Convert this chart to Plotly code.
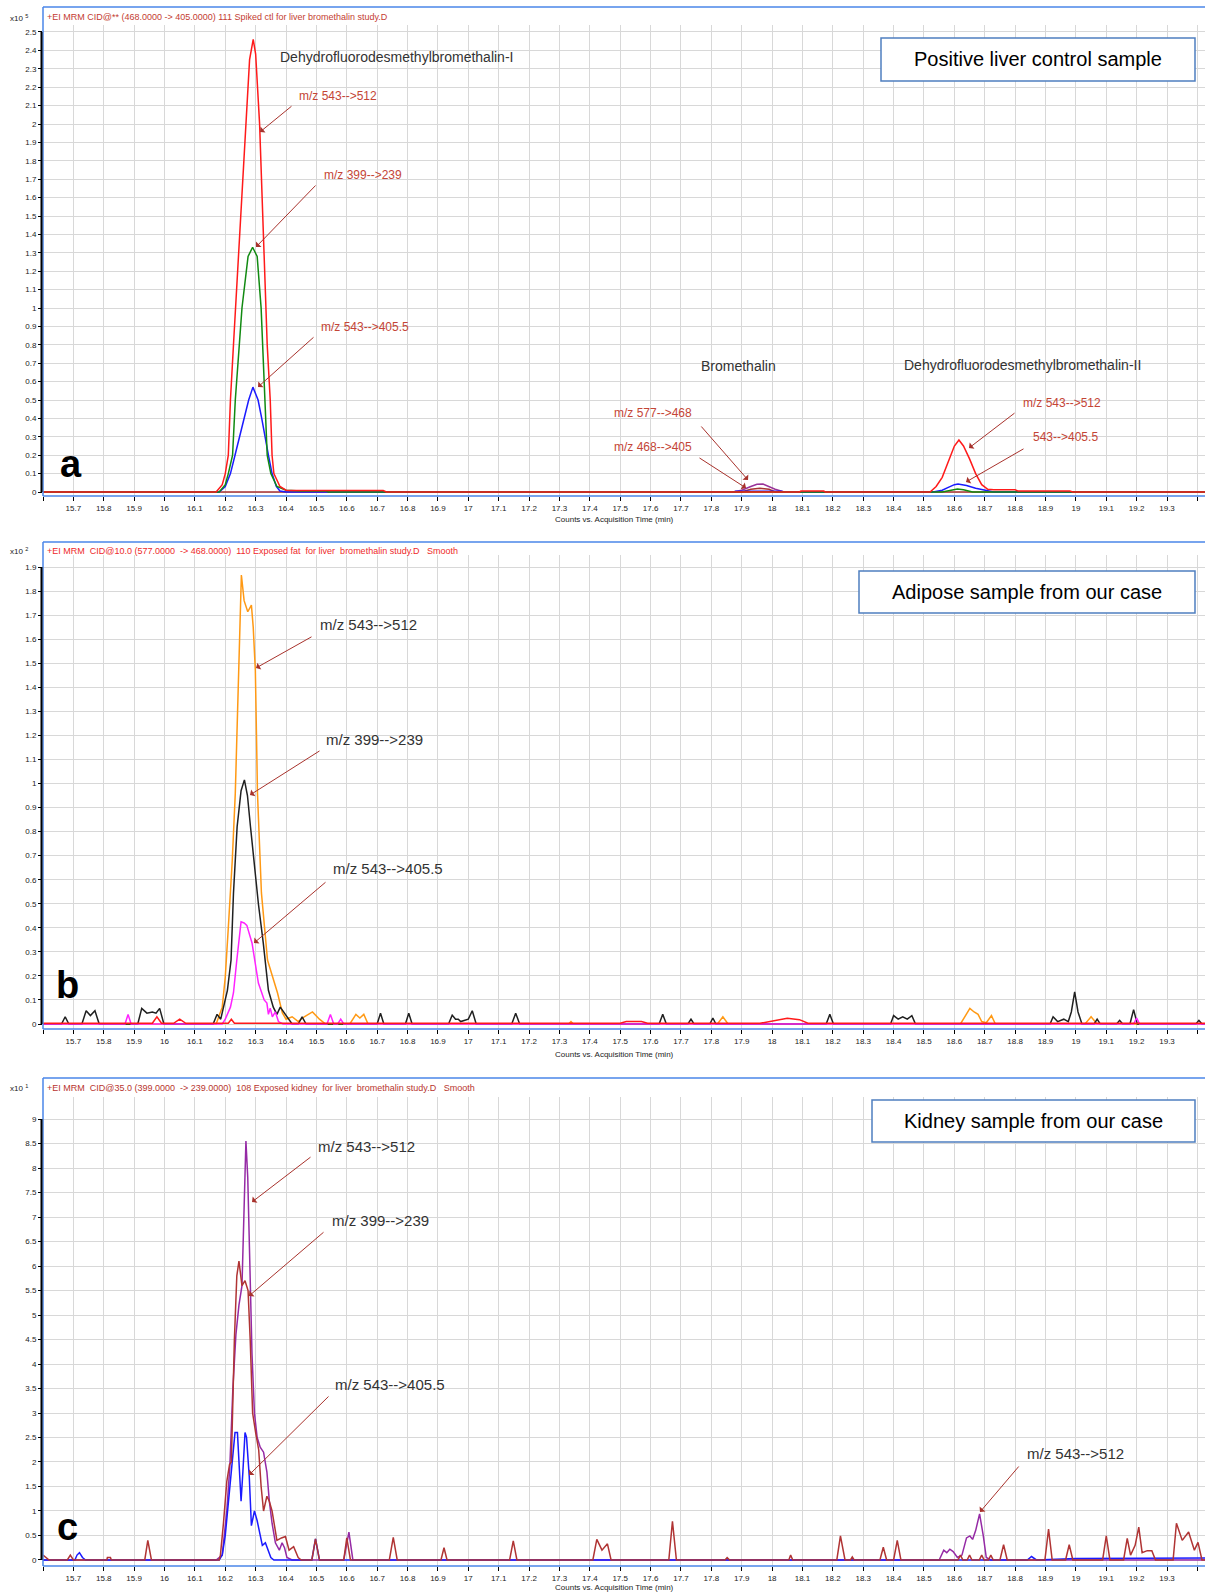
import plotly.graph_objects as go

W, H = 1205, 1595
FONT = "Liberation Sans, Arial, sans-serif"

# ---------------- tick definitions ----------------
X_TICKS = [15.6, 15.7, 15.8, 15.9, 16.0, 16.1, 16.2, 16.3, 16.4, 16.5, 16.6, 16.7, 16.8, 16.9,
           17.0, 17.1, 17.2, 17.3, 17.4, 17.5, 17.6, 17.7, 17.8, 17.9, 18.0, 18.1, 18.2, 18.3,
           18.4, 18.5, 18.6, 18.7, 18.8, 18.9, 19.0, 19.1, 19.2, 19.3, 19.4]
X_TICK_LABELS = ["", "15.7", "15.8", "15.9", "16", "16.1", "16.2", "16.3", "16.4", "16.5", "16.6",
                 "16.7", "16.8", "16.9", "17", "17.1", "17.2", "17.3", "17.4", "17.5", "17.6",
                 "17.7", "17.8", "17.9", "18", "18.1", "18.2", "18.3", "18.4", "18.5", "18.6",
                 "18.7", "18.8", "18.9", "19", "19.1", "19.2", "19.3", ""]

A_Y_TICKS = [0, 0.1, 0.2, 0.3, 0.4, 0.5, 0.6, 0.7, 0.8, 0.9, 1.0, 1.1, 1.2, 1.3, 1.4, 1.5, 1.6,
             1.7, 1.8, 1.9, 2.0, 2.1, 2.2, 2.3, 2.4, 2.5]
A_Y_LABELS = ["0", "0.1", "0.2", "0.3", "0.4", "0.5", "0.6", "0.7", "0.8", "0.9", "1", "1.1",
              "1.2", "1.3", "1.4", "1.5", "1.6", "1.7", "1.8", "1.9", "2", "2.1", "2.2", "2.3",
              "2.4", "2.5"]
B_Y_TICKS = [0, 0.1, 0.2, 0.3, 0.4, 0.5, 0.6, 0.7, 0.8, 0.9, 1.0, 1.1, 1.2, 1.3, 1.4, 1.5, 1.6,
             1.7, 1.8, 1.9]
B_Y_LABELS = ["0", "0.1", "0.2", "0.3", "0.4", "0.5", "0.6", "0.7", "0.8", "0.9", "1", "1.1",
              "1.2", "1.3", "1.4", "1.5", "1.6", "1.7", "1.8", "1.9"]
C_Y_TICKS = [0, 0.5, 1, 1.5, 2, 2.5, 3, 3.5, 4, 4.5, 5, 5.5, 6, 6.5, 7, 7.5, 8, 8.5, 9]
C_Y_LABELS = ["0", "0.5", "1", "1.5", "2", "2.5", "3", "3.5", "4", "4.5", "5", "5.5", "6", "6.5",
              "7", "7.5", "8", "8.5", "9"]

# ---------------- panel a (x10^5 counts) ----------------
A_468_405 = [(15.6, 0), (17.90, 0), (17.93, 0.015), (17.96, 0.02), (17.99, 0.015), (18.01, 0),
             (19.425, 0)]
A_577_468 = [(17.87, 0), (17.90, 0.01), (17.93, 0.03), (17.95, 0.042), (17.97, 0.043),
             (17.99, 0.03), (18.01, 0.015), (18.04, 0)]
A_543_405 = [(15.6, 0), (16.18, 0), (16.20, 0.03), (16.217, 0.1), (16.232, 0.2), (16.247, 0.3),
             (16.262, 0.4), (16.277, 0.5), (16.291, 0.57), (16.308, 0.5), (16.32, 0.4),
             (16.33, 0.3), (16.342, 0.2), (16.354, 0.1), (16.368, 0.03), (16.38, 0.005),
             (16.40, 0), (17.875, 0), (17.88, 0.004), (18.03, 0.004), (18.04, 0), (18.53, 0),
             (18.56, 0.01), (18.58, 0.025), (18.60, 0.04), (18.612, 0.044), (18.64, 0.035),
             (18.67, 0.02), (18.70, 0.008), (18.73, 0), (19.425, 0)]
A_399_239 = [(15.6, 0), (16.18, 0), (16.20, 0.04), (16.21, 0.1), (16.224, 0.2), (16.233, 0.5),
             (16.255, 1.0), (16.275, 1.28), (16.29, 1.33), (16.305, 1.28), (16.318, 1.0),
             (16.332, 0.5), (16.338, 0.2), (16.35, 0.1), (16.37, 0.03), (16.40, 0.01),
             (16.45, 0.006), (16.53, 0.006), (16.54, 0), (18.56, 0), (18.59, 0.012),
             (18.61, 0.016), (18.63, 0.012), (18.66, 0), (19.425, 0)]
A_543_512 = [(15.6, 0), (16.17, 0), (16.19, 0.04), (16.20, 0.1), (16.21, 0.2), (16.217, 0.5),
             (16.227, 0.8), (16.248, 1.4), (16.269, 2.0), (16.28, 2.35), (16.292, 2.46),
             (16.30, 2.38), (16.313, 2.0), (16.325, 1.4), (16.338, 0.8), (16.348, 0.5),
             (16.354, 0.2), (16.36, 0.1), (16.38, 0.03), (16.40, 0.01), (16.42, 0.008),
             (16.72, 0.008), (16.73, 0), (18.09, 0), (18.095, 0.005), (18.17, 0.005),
             (18.175, 0), (18.52, 0), (18.54, 0.03), (18.56, 0.08), (18.58, 0.16), (18.60, 0.25),
             (18.615, 0.283), (18.63, 0.25), (18.65, 0.18), (18.67, 0.10), (18.69, 0.04),
             (18.71, 0.015), (18.73, 0.012), (18.80, 0.012), (18.81, 0.005), (18.98, 0.005),
             (18.99, 0), (19.425, 0)]

# ---------------- panel b (x10^2 counts) ----------------
B_543_512 = [(15.6, 0), (16.17, 0), (16.19, 0.07), (16.20, 0.195), (16.21, 0.40), (16.223, 0.68),
             (16.233, 0.96), (16.243, 1.376), (16.253, 1.867), (16.262, 1.76), (16.274, 1.714),
             (16.286, 1.742), (16.292, 1.65), (16.299, 1.47), (16.306, 0.96), (16.319, 0.545),
             (16.339, 0.266), (16.372, 0.129), (16.388, 0.046), (16.40, 0.02), (16.42, 0.03),
             (16.44, 0.01), (16.46, 0.03), (16.487, 0.05), (16.51, 0.02), (16.53, 0),
             (16.61, 0), (16.63, 0.04), (16.643, 0.025), (16.656, 0.04), (16.67, 0),
             (17.33, 0), (17.338, 0.01), (17.346, 0), (17.82, 0), (17.838, 0.03), (17.855, 0),
             (18.62, 0), (18.651, 0.065), (18.665, 0.05), (18.678, 0.04), (18.69, 0.01),
             (18.705, 0.005), (18.722, 0.035), (18.735, 0), (19.03, 0), (19.05, 0.03),
             (19.07, 0), (19.425, 0)]
B_399_239 = [(15.6, 0), (15.661, 0), (15.673, 0.03), (15.685, 0), (15.728, 0), (15.742, 0.055),
             (15.756, 0.035), (15.771, 0.055), (15.785, 0), (15.912, 0), (15.925, 0.065),
             (15.942, 0.045), (15.96, 0.05), (15.972, 0.045), (15.984, 0.065), (15.998, 0),
             (16.16, 0), (16.173, 0.04), (16.185, 0.02), (16.194, 0.07), (16.207, 0.14),
             (16.219, 0.266), (16.227, 0.545), (16.239, 0.82), (16.252, 0.97), (16.263, 1.015),
             (16.273, 0.95), (16.283, 0.82), (16.299, 0.61), (16.309, 0.50), (16.325, 0.337),
             (16.342, 0.14), (16.358, 0.07), (16.37, 0.04), (16.381, 0.07), (16.404, 0.03),
             (16.42, 0), (16.44, 0), (16.453, 0.03), (16.466, 0), (16.70, 0), (16.711, 0.045),
             (16.722, 0), (16.793, 0), (16.804, 0.045), (16.815, 0), (16.935, 0),
             (16.947, 0.037), (16.958, 0.02), (16.967, 0.02), (16.975, 0.01), (17.0, 0.02),
             (17.013, 0.055), (17.026, 0), (17.143, 0), (17.156, 0.045), (17.169, 0),
             (17.628, 0), (17.64, 0.04), (17.652, 0), (17.723, 0), (17.733, 0.02), (17.743, 0),
             (17.795, 0), (17.805, 0.025), (17.815, 0), (18.178, 0), (18.19, 0.04),
             (18.202, 0), (18.39, 0), (18.40, 0.035), (18.415, 0.02), (18.43, 0.03),
             (18.445, 0.02), (18.46, 0.035), (18.472, 0), (18.915, 0), (18.925, 0.03),
             (18.94, 0.01), (18.96, 0.02), (18.975, 0.01), (18.985, 0.05), (18.996, 0.134),
             (19.007, 0.05), (19.02, 0), (19.06, 0), (19.07, 0.02), (19.08, 0), (19.134, 0),
             (19.144, 0.015), (19.154, 0), (19.178, 0), (19.19, 0.06), (19.202, 0),
             (19.395, 0), (19.405, 0.015), (19.415, 0), (19.425, 0)]
B_543_405 = [(15.6, 0), (15.87, 0), (15.88, 0.04), (15.89, 0), (16.19, 0), (16.20, 0.02),
             (16.217, 0.07), (16.227, 0.13), (16.238, 0.266), (16.252, 0.425), (16.262, 0.42),
             (16.271, 0.41), (16.288, 0.337), (16.30, 0.24), (16.309, 0.17), (16.32, 0.13),
             (16.328, 0.10), (16.337, 0.087), (16.342, 0.04), (16.348, 0.066), (16.355, 0.03),
             (16.365, 0.05), (16.375, 0.01), (16.39, 0), (16.535, 0), (16.546, 0.04),
             (16.557, 0), (16.57, 0), (16.58, 0.02), (16.59, 0), (19.19, 0), (19.20, 0.025),
             (19.21, 0), (19.425, 0)]
B_577_468 = [(15.6, 0.003), (15.96, 0.003), (15.975, 0.03), (15.99, 0.003), (16.03, 0.003),
             (16.05, 0.02), (16.07, 0.003), (16.21, 0.003), (16.22, 0.02), (16.23, 0.003),
             (17.50, 0.003), (17.52, 0.01), (17.57, 0.01), (17.59, 0.003), (17.96, 0.003),
             (18.0, 0.012), (18.05, 0.024), (18.09, 0.018), (18.118, 0.003), (19.425, 0.003)]

# ---------------- panel c (x10^1 counts) ----------------
C_543_512 = [(15.6, 0), (16.17, 0), (16.19, 0.1), (16.205, 1.0), (16.215, 1.9), (16.225, 3.5),
             (16.235, 4.6), (16.245, 5.2), (16.255, 5.6), (16.262, 7.5), (16.268, 8.55),
             (16.274, 7.8), (16.28, 6.0), (16.288, 4.2), (16.296, 3.0), (16.305, 2.5),
             (16.315, 2.3), (16.326, 2.2), (16.337, 1.8), (16.345, 1.2), (16.354, 0.75),
             (16.365, 0.35), (16.378, 0.2), (16.387, 0.35), (16.395, 0.25), (16.403, 0.05),
             (16.42, 0), (16.59, 0), (16.607, 0.57), (16.62, 0), (18.55, 0), (18.565, 0.2),
             (18.575, 0.15), (18.585, 0.22), (18.596, 0.17), (18.61, 0.05), (18.625, 0.1),
             (18.64, 0.45), (18.651, 0.49), (18.66, 0.42), (18.67, 0.6), (18.683, 0.94),
             (18.695, 0.5), (18.705, 0.05), (18.72, 0), (19.425, 0)]
C_543_405 = [(15.6, 0), (15.705, 0), (15.712, 0.1), (15.72, 0.15), (15.73, 0.05), (15.74, 0),
             (16.18, 0), (16.19, 0.1), (16.20, 0.5), (16.21, 1.2), (16.222, 1.9), (16.232, 2.6),
             (16.24, 2.6), (16.246, 1.8), (16.252, 1.2), (16.258, 1.8), (16.265, 2.6),
             (16.27, 2.5), (16.279, 1.7), (16.286, 0.7), (16.296, 1.0), (16.305, 0.8),
             (16.315, 0.52), (16.322, 0.3), (16.332, 0.35), (16.34, 0.2), (16.35, 0.05),
             (16.36, 0), (16.485, 0), (16.497, 0.43), (16.51, 0), (18.84, 0), (18.854, 0.07),
             (18.87, 0), (19.0, 0.03), (19.425, 0.04)]
C_399_239 = [(15.6, 0.1), (15.61, 0.05), (15.62, 0), (15.68, 0), (15.69, 0.1), (15.70, 0),
             (15.81, 0), (15.812, 0.05), (15.822, 0.05), (15.825, 0), (15.935, 0),
             (15.945, 0.4), (15.957, 0), (16.18, 0), (16.184, 0.1), (16.194, 0.75),
             (16.205, 1.6), (16.214, 1.95), (16.22, 2.0), (16.23, 4.5), (16.238, 5.8),
             (16.245, 6.1), (16.255, 5.6), (16.265, 5.7), (16.275, 5.5), (16.282, 4.5),
             (16.29, 3.0), (16.30, 2.6), (16.31, 2.25), (16.318, 1.5), (16.326, 1.0),
             (16.337, 1.3), (16.345, 1.2), (16.354, 1.0), (16.362, 0.7), (16.37, 0.4),
             (16.385, 0.45), (16.398, 0.48), (16.41, 0.2), (16.425, 0.27), (16.44, 0.05),
             (16.45, 0), (16.485, 0), (16.497, 0.43), (16.51, 0), (16.59, 0), (16.60, 0.45),
             (16.612, 0), (16.74, 0), (16.753, 0.46), (16.766, 0), (16.91, 0), (16.92, 0.25),
             (16.93, 0), (17.136, 0), (17.148, 0.39), (17.16, 0), (17.41, 0), (17.423, 0.42),
             (17.44, 0.2), (17.458, 0.33), (17.47, 0), (17.66, 0), (17.672, 0.79),
             (17.685, 0), (17.845, 0), (17.852, 0.05), (17.86, 0), (18.055, 0), (18.061, 0.1),
             (18.068, 0), (18.213, 0), (18.225, 0.49), (18.24, 0), (18.258, 0), (18.264, 0.06),
             (18.27, 0), (18.355, 0), (18.366, 0.26), (18.377, 0), (18.40, 0), (18.412, 0.40),
             (18.424, 0), (18.612, 0), (18.62, 0.1), (18.628, 0), (18.642, 0), (18.65, 0.1),
             (18.658, 0), (18.682, 0), (18.69, 0.1), (18.698, 0), (18.712, 0), (18.72, 0.1),
             (18.728, 0), (18.75, 0), (18.762, 0.31), (18.774, 0), (18.898, 0), (18.91, 0.63),
             (18.922, 0), (18.966, 0), (18.978, 0.31), (18.99, 0), (19.088, 0), (19.10, 0.49),
             (19.112, 0), (19.157, 0), (19.169, 0.44), (19.18, 0.1), (19.195, 0.3),
             (19.207, 0.67), (19.218, 0.15), (19.235, 0.19), (19.25, 0.19), (19.262, 0),
             (19.32, 0), (19.331, 0.75), (19.35, 0.4), (19.371, 0.57), (19.39, 0.2),
             (19.402, 0.36), (19.415, 0), (19.425, 0)]

# ---------------- figure ----------------
fig = go.Figure()


def add(series, color, xa, ya, width=1.5):
    fig.add_trace(go.Scatter(x=[p[0] for p in series], y=[p[1] for p in series], mode="lines",
                             line=dict(color=color, width=width), xaxis=xa, yaxis=ya,
                             showlegend=False, hoverinfo="skip"))


add(A_468_405, "#a83232", "x", "y")
add(A_577_468, "#993399", "x", "y")
add(A_543_405, "#1a1aff", "x", "y")
add(A_399_239, "#118a11", "x", "y")
add(A_543_512, "#ff1a1a", "x", "y")

add(B_543_512, "#ff9914", "x2", "y2")
add(B_399_239, "#202020", "x2", "y2")
add(B_543_405, "#ff22ff", "x2", "y2")
add(B_577_468, "#ff1a1a", "x2", "y2")

add(C_543_512, "#952aa5", "x3", "y3")
add(C_543_405, "#1a1aff", "x3", "y3")
add(C_399_239, "#b03434", "x3", "y3")


def px(x):
    return x / W


def py(y):
    return 1 - y / H


GRID = "#d8d8d8"
TICKFONT = dict(family=FONT, size=8, color="#222")


def xax():
    return dict(domain=[px(43), 1], range=[15.6, 19.425], tickvals=X_TICKS, ticktext=X_TICK_LABELS,
                ticks="outside", ticklen=4, tickcolor="#000", tickwidth=1, showgrid=True,
                gridcolor=GRID, gridwidth=1, zeroline=False, showline=False, tickfont=TICKFONT,
                tickangle=0, fixedrange=True)


def yax(top, bottom, rng, vals, labels):
    return dict(domain=[py(bottom), py(top)], range=rng, tickvals=vals, ticktext=labels,
                ticks="outside", ticklen=4, tickcolor="#000", tickwidth=1, showgrid=True,
                gridcolor=GRID, gridwidth=1, zeroline=False, showline=False, tickfont=TICKFONT,
                fixedrange=True)


layout = dict(
    width=W, height=H, margin=dict(l=0, r=0, t=0, b=0), paper_bgcolor="white",
    plot_bgcolor="white", font=dict(family=FONT),
    xaxis=dict(xax(), anchor="y"),
    yaxis=dict(yax(25, 496, [-0.0217, 2.538], A_Y_TICKS, A_Y_LABELS), anchor="x"),
    xaxis2=dict(xax(), anchor="y2"),
    yaxis2=dict(yax(555, 1029, [-0.0208, 1.95], B_Y_TICKS, B_Y_LABELS), anchor="x2"),
    xaxis3=dict(xax(), anchor="y3"),
    yaxis3=dict(yax(1097, 1566, [-0.123, 9.45], C_Y_TICKS, C_Y_LABELS), anchor="x3"),
)
fig.update_layout(**layout)

FRAME = "#4a86e8"
shapes = []
for top, bottom, yref, ytop in [(7, 496, "y", 2.5), (542, 1029, "y2", 1.9), (1078, 1566, "y3", 9)]:
    shapes.append(dict(type="line", xref="paper", yref="paper", x0=px(43), x1=1,
                       y0=py(top), y1=py(top), line=dict(color=FRAME, width=1.5)))
    shapes.append(dict(type="line", xref="paper", yref="paper", x0=px(43), x1=px(43),
                       y0=py(top), y1=py(bottom), line=dict(color=FRAME, width=1.5)))
    shapes.append(dict(type="line", xref="paper", yref="paper", x0=px(43), x1=1,
                       y0=py(bottom), y1=py(bottom), line=dict(color=FRAME, width=1.5)))
    shapes.append(dict(type="line", xref="paper", yref=yref, x0=px(41.5), x1=px(41.5),
                       y0=0, y1=ytop, line=dict(color="#000", width=2)))

# sample boxes
for l, t, r, b in [(881, 38, 1195, 81), (859, 571, 1195, 613), (872, 1100, 1195, 1142)]:
    shapes.append(dict(type="rect", xref="paper", yref="paper", x0=px(l), x1=px(r),
                       y0=py(b), y1=py(t), line=dict(color="#4f7fc0", width=1.5),
                       fillcolor="white"))
fig.update_layout(shapes=shapes)

ann = []


def text(x, y, s, size, color, anchor="center", bold=False):
    ann.append(dict(x=px(x), y=py(y), xref="paper", yref="paper", text=("<b>%s</b>" % s) if bold else s,
                    showarrow=False, xanchor=anchor, yanchor="middle",
                    font=dict(family=FONT, size=size, color=color)))


def arrow(tail, head, color="#a8322c"):
    ann.append(dict(x=px(head[0]), y=py(head[1]), xref="paper", yref="paper", text="",
                    showarrow=True, ax=tail[0] - head[0], ay=tail[1] - head[1],
                    axref="pixel", ayref="pixel", arrowhead=1, arrowsize=1.3,
                    arrowwidth=1, arrowcolor=color, standoff=0, startstandoff=0))


# headers
text(45, 17, "+EI MRM CID@** (468.0000 -> 405.0000) 111 Spiked ctl for liver bromethalin study.D",
     9, "#c43c32", "left")
text(45, 551, "+EI MRM  CID@10.0 (577.0000  -> 468.0000)  110 Exposed fat  for liver  bromethalin study.D   Smooth",
     9, "#ee2a2a", "left")
text(45, 1088, "+EI MRM  CID@35.0 (399.0000  -> 239.0000)  108 Exposed kidney  for liver  bromethalin study.D   Smooth",
     9, "#b8352e", "left")

# multipliers
text(8, 18, "x10 <sup>5</sup>", 8, "#222", "left")
text(8, 551, "x10 <sup>2</sup>", 8, "#222", "left")
text(8, 1088, "x10 <sup>1</sup>", 8, "#222", "left")

# axis titles
for yy in [520, 1054, 1587]:
    text(614, yy, "Counts vs. Acquisition Time (min)", 8, "#222")

# panel letters
text(71, 464, "a", 38, "#000", bold=True)
text(67, 985, "b", 38, "#000", bold=True)
text(67, 1527, "c", 38, "#000", bold=True)

# sample boxes text
text(1038, 59, "Positive liver control sample", 20, "#000")
text(1027, 592, "Adipose sample from our case", 20, "#000")
text(1033, 1121, "Kidney sample from our case", 20, "#000")

# compound labels panel a
text(396, 57, "Dehydrofluorodesmethylbromethalin-I", 14, "#333")
text(738, 366, "Bromethalin", 14, "#333")
text(1022, 365, "Dehydrofluorodesmethylbromethalin-II", 14, "#333")

RED_T = "#c44536"
text(338, 96, "m/z 543-->512", 12, RED_T)
arrow((293, 105), (260, 132))
text(363, 175, "m/z 399-->239", 12, RED_T)
arrow((317, 184), (256, 247))
text(365, 327, "m/z 543-->405.5", 12, RED_T)
arrow((315, 336), (258, 387))
text(653, 413, "m/z 577-->468", 12, RED_T)
arrow((700, 425), (748, 480))
text(653, 447, "m/z 468-->405", 12, RED_T)
arrow((698, 457), (746, 488))
text(1062, 403, "m/z 543-->512", 12, RED_T)
arrow((1016, 412), (969, 448))
text(1065, 437, "543-->405.5", 12, RED_T)
arrow((1025, 448), (966, 482))

GRAY_T = "#333"
text(368, 625, "m/z 543-->512", 15, GRAY_T)
arrow((313, 636), (256, 668))
text(374, 739, "m/z 399-->239", 15, GRAY_T)
arrow((321, 750), (250, 795))
text(388, 868, "m/z 543-->405.5", 15, GRAY_T)
arrow((327, 881), (254, 943))

text(367, 1146, "m/z 543-->512", 15, GRAY_T)
arrow((312, 1156), (252, 1202))
text(380, 1220, "m/z 399-->239", 15, GRAY_T)
arrow((325, 1231), (249, 1296))
text(390, 1384, "m/z 543-->405.5", 15, GRAY_T)
arrow((330, 1395), (249, 1475))
text(1075, 1453, "m/z 543-->512", 15, GRAY_T)
arrow((1020, 1465), (980, 1512))

fig.update_layout(annotations=ann)

fig.write_html("out.html", config={"displayModeBar": False},
               post_script="document.body.style.margin='0px';document.body.style.padding='0px';")
